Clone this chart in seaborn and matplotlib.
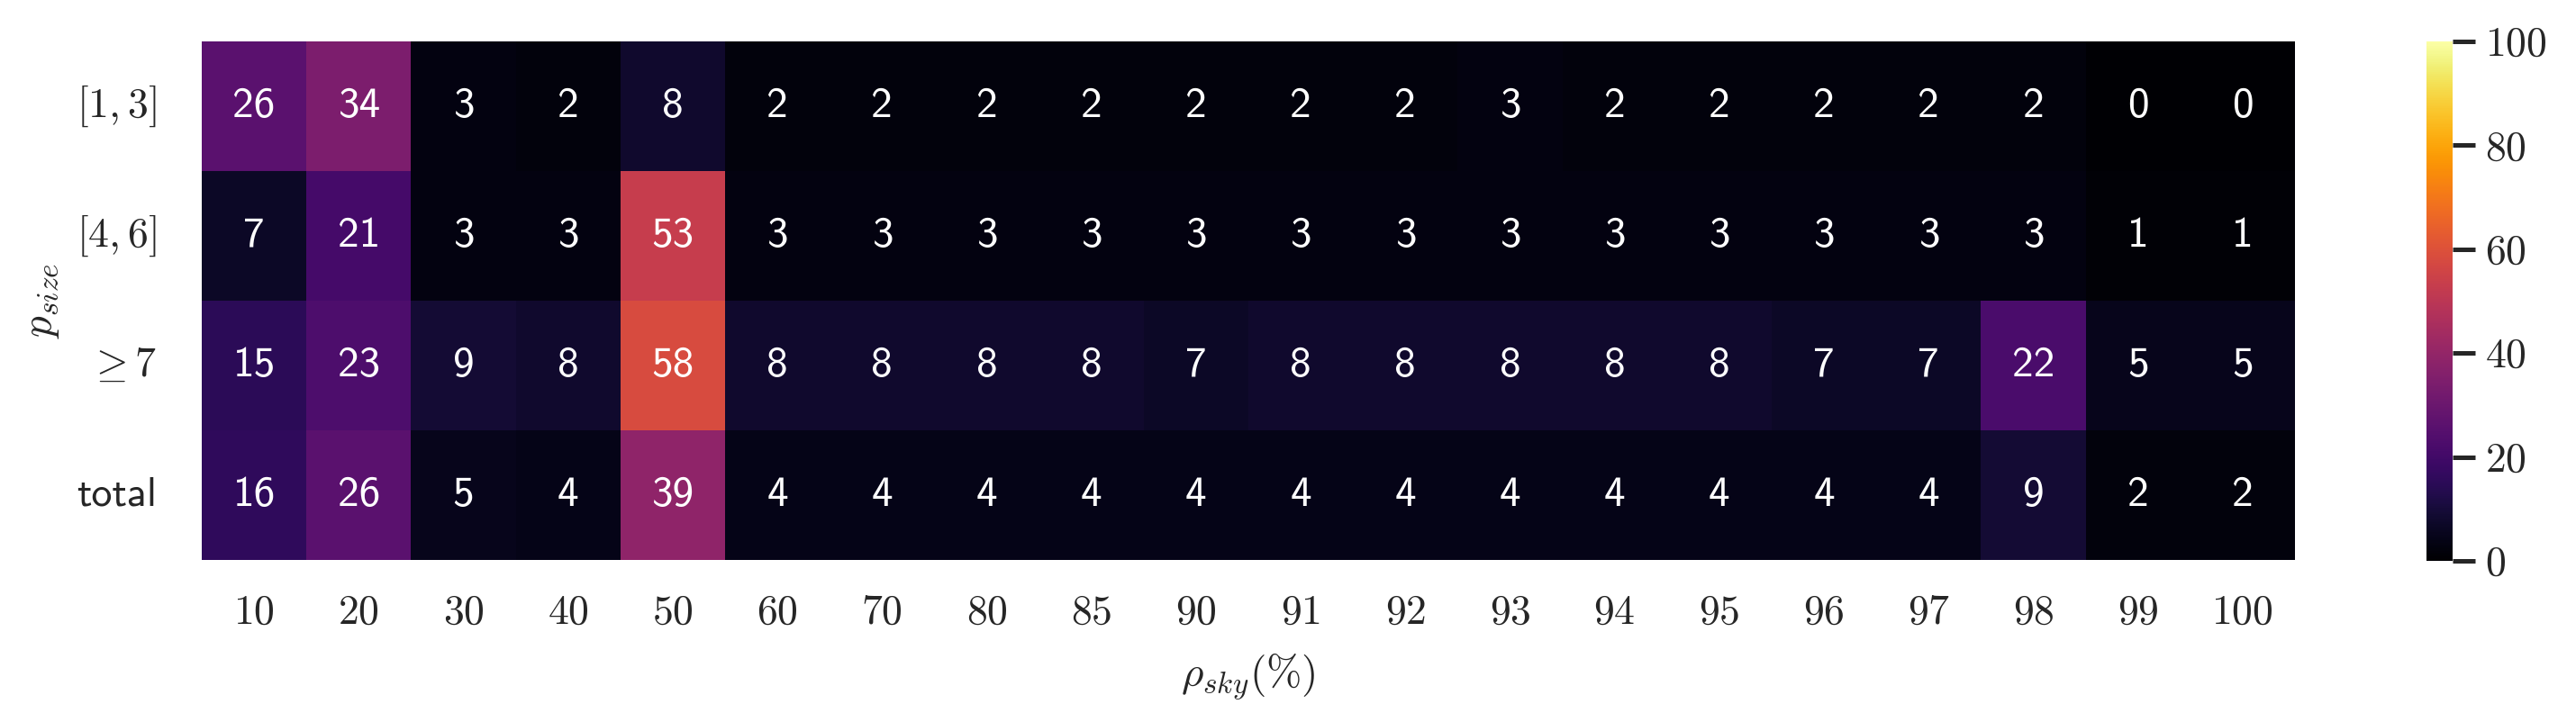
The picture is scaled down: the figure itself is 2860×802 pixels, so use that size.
import numpy as np
import pandas as pd
import matplotlib
matplotlib.use("Agg")
import matplotlib.pyplot as plt
import seaborn as sns

rho_sky = ["10", "20", "30", "40", "50", "60", "70", "80", "85", "90",
           "91", "92", "93", "94", "95", "96", "97", "98", "99", "100"]
row_labels = [r"$[1, 3]$", r"$[4, 6]$", r"$\geq 7$", "total"]

row_1_3 = [26, 34, 3, 2, 8, 2, 2, 2, 2, 2, 2, 2, 3, 2, 2, 2, 2, 2, 0, 0]
row_4_6 = [7, 21, 3, 3, 53, 3, 3, 3, 3, 3, 3, 3, 3, 3, 3, 3, 3, 3, 1, 1]
row_ge7 = [15, 23, 9, 8, 58, 8, 8, 8, 8, 7, 8, 8, 8, 8, 8, 7, 7, 22, 5, 5]
row_total = [16, 26, 5, 4, 39, 4, 4, 4, 4, 4, 4, 4, 4, 4, 4, 4, 4, 9, 2, 2]

sns.set_theme(style="white")
plt.rcParams["mathtext.fontset"] = "cm"
plt.rcParams["font.family"] = ["cmss10", "DejaVu Sans"]
plt.rcParams["axes.formatter.use_mathtext"] = True

df = pd.DataFrame([row_1_3, row_4_6, row_ge7, row_total],
                  index=row_labels, columns=rho_sky)

W, H, dpi = 2860, 802, 200
fig = plt.figure(figsize=(W / dpi, H / dpi), dpi=dpi)
ax = fig.add_axes([224 / W, (H - 622) / H, (2548 - 224) / W, (622 - 46) / H])
cax = fig.add_axes([2694 / W, (H - 623) / H, 29 / W, (623 - 46) / H])

sns.heatmap(df, ax=ax, cbar_ax=cax, cmap="inferno", vmin=0, vmax=100,
            annot=True, fmt="d",
            annot_kws={"fontsize": 17, "color": "white", "family": "cmss10"},
            cbar_kws={"ticks": [0, 20, 40, 60, 80, 100]})

ax.tick_params(axis="y", length=0, labelsize=16.5, pad=18)
ax.tick_params(axis="x", length=0, labelsize=16.5, pad=14)
ax.set_yticklabels(row_labels, rotation=0)
for t in ax.get_yticklabels():
    if t.get_text() == "total":
        t.set_fontfamily("cmss10")
        t.set_fontsize(16.5)
ax.set_xticklabels([f"${c}$" for c in rho_sky], rotation=0)
ax.set_xlabel(r"$\rho_{sky}(\%)$", fontsize=17, labelpad=8)
ax.set_ylabel(r"$p_{size}$", fontsize=17, labelpad=6)

cax.tick_params(length=9, width=1.8, labelsize=16.5, pad=4, color="#262626")
cax.set_yticklabels([f"${t}$" for t in [0, 20, 40, 60, 80, 100]])
for s in cax.spines.values():
    s.set_visible(False)

fig.savefig("out.png", dpi=dpi)
